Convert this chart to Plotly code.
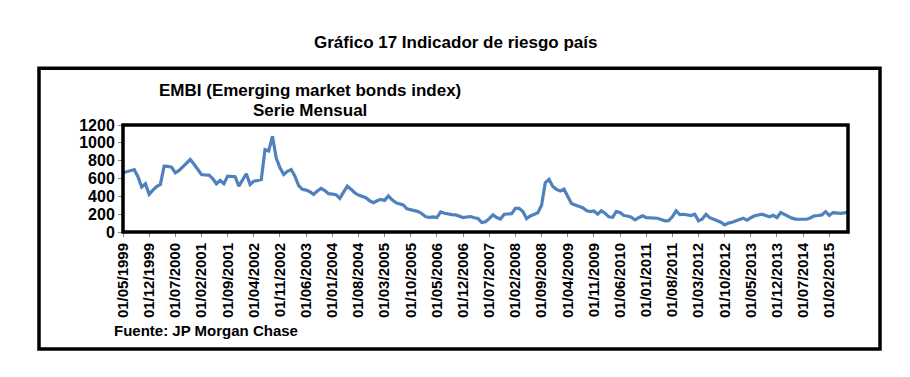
import pandas as pd
import plotly.graph_objects as go

# Monthly dates (categories)
dates = pd.date_range("1999-05-01", periods=195, freq="MS").strftime("%d/%m/%Y").tolist()

embi = [
    664, 675, 690, 700, 620, 504, 541, 422, 470, 510,
    534, 739, 735, 728, 664, 690, 730, 770, 813, 760,
    700, 645, 640, 638, 600, 541, 578, 541, 627, 625,
    620, 515, 580, 653, 534, 570, 578, 590, 924, 910,
    1075, 830, 720, 645, 680, 701, 627, 520, 478, 470,
    452, 422, 460, 489, 465, 430, 425, 418, 377, 440,
    515, 480, 440, 415, 400, 385, 350, 329, 350, 366,
    355, 404, 360, 329, 315, 303, 260, 250, 240, 229,
    205, 170, 165, 170, 162, 225, 210, 199, 195, 192,
    180, 162, 168, 173, 160, 151, 106, 115, 150, 192,
    162, 145, 199, 199, 205, 266, 266, 230, 151, 180,
    199, 215, 300, 552, 590, 510, 478, 460, 480, 400,
    320, 303, 285, 273, 240, 229, 237, 200, 237, 210,
    170, 165, 229, 218, 185, 180, 165, 135, 160, 181,
    162, 158, 155, 154, 140, 125, 128, 170, 237, 195,
    199, 190, 185, 199, 125, 145, 199, 160, 143, 135,
    110, 80, 100, 110, 128, 140, 154, 132, 160, 181,
    190, 199, 185, 170, 187, 162, 218, 195, 170, 155,
    145, 143, 143, 143, 160, 181, 185, 192, 229, 187,
    218, 212, 210, 215, 225,
]

tick_labels = dates[::7]
y_ticks = [0, 200, 400, 600, 800, 1000, 1200]

OFF = 8  # page body margin
W, H = 910 - OFF, 377 - OFF
L, R, T, B = 123 - OFF, 848 - OFF, 125 - OFF, 232.5 - OFF
pw, ph = R - L, B - T

def px(x):
    return (x - OFF - L) / pw

def py(y):
    return 1 - (y - OFF - T) / ph

FONT = "Liberation Sans, Arial, sans-serif"

fig = go.Figure()
fig.add_trace(go.Scatter(
    x=dates, y=embi, mode="lines",
    line=dict(color="#4F81BD", width=3.2),
    hoverinfo="x+y", showlegend=False,
))

fig.update_layout(
    width=W, height=H,
    margin=dict(l=L, r=W - R, t=T, b=H - B, pad=0),
    paper_bgcolor="white", plot_bgcolor="white",
    font=dict(family=FONT, color="black"),
    xaxis=dict(
        type="category", range=[0, len(dates) - 1],
        tickmode="array", tickvals=tick_labels, ticktext=tick_labels,
        tickangle=-90, tickfont=dict(size=15, weight="bold", family=FONT),
        ticks="outside", ticklen=4, tickcolor="#888", showgrid=False,
        zeroline=False, showline=False,
    ),
    yaxis=dict(
        range=[0, 1200], tickmode="array", tickvals=y_ticks,
        tickfont=dict(size=16, weight="bold", family=FONT),
        ticks="outside", ticklen=4, tickcolor="#888", showgrid=False,
        zeroline=False, showline=False,
    ),
    shapes=[
        # plot area frame
        dict(type="rect", xref="paper", yref="paper", x0=0, x1=1, y0=0, y1=1,
             line=dict(color="black", width=3.5), layer="above"),
        # outer frame
        dict(type="rect", xref="paper", yref="paper",
             x0=px(39), x1=px(880), y0=py(350), y1=py(68),
             line=dict(color="black", width=3.5)),
    ],
    annotations=[
        dict(text="<b>Gráfico 17 Indicador de riesgo país</b>", xref="paper", yref="paper",
             x=px(455), y=py(42), showarrow=False, xanchor="center", yanchor="middle",
             font=dict(size=17, family=FONT)),
        dict(text="<b>EMBI (Emerging market bonds index)</b>", xref="paper", yref="paper",
             x=px(310), y=py(90), showarrow=False, xanchor="center", yanchor="middle",
             font=dict(size=17, family=FONT)),
        dict(text="<b>Serie Mensual</b>", xref="paper", yref="paper",
             x=px(310), y=py(110), showarrow=False, xanchor="center", yanchor="middle",
             font=dict(size=17, family=FONT)),
        dict(text="<b>Fuente: JP Morgan Chase</b>", xref="paper", yref="paper",
             x=px(112), y=py(331), showarrow=False, xanchor="left", yanchor="middle",
             font=dict(size=15, family=FONT)),
    ],
)

fig.write_html("out.html")
